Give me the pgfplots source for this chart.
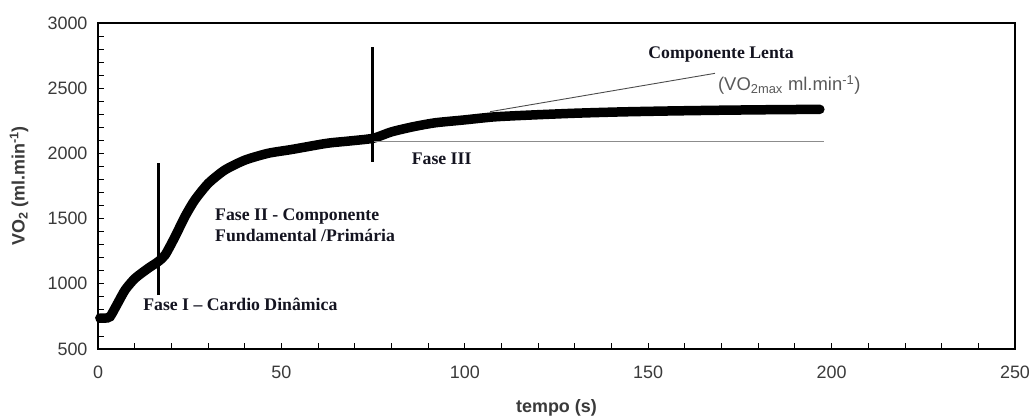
\documentclass[border=0pt]{standalone}
\usepackage{fontspec}
\setmainfont{Liberation Sans}
\newfontfamily\serifb{Liberation Serif}[Ligatures=TeX,BoldFont={Liberation Serif Bold}]
\usepackage{pgfplots}
\pgfplotsset{compat=1.18}
\definecolor{ticklab}{HTML}{3A3A3A}
\definecolor{anntext}{HTML}{141420}
\begin{document}
\begin{tikzpicture}
\begin{axis}[
  scale only axis,
  width=917bp, height=326bp,
  xmin=0, xmax=250, ymin=500, ymax=3000,
  xtick={0,50,...,250}, ytick={500,1000,...,3000},
  minor x tick num=4, minor y tick num=4,
  tick pos=left, tick align=inside,
  major tick length=6bp, minor tick length=6bp,
  axis line style={line width=1.8bp},
  every tick/.style={black, line width=0.9bp},
  /pgf/number format/assume math mode=true,
  /pgf/number format/1000 sep={},
  tick label style={font=\fontsize{18}{21}\selectfont, text=ticklab},
  xticklabel style={yshift=-13bp},
  yticklabel style={xshift=-7bp},
  xlabel={\textbf{tempo (s)}},
  ylabel={\textbf{VO\textsubscript{2} (ml.min\textsuperscript{-1})}},
  label style={font=\fontsize{18}{21}\selectfont, text=ticklab},
  xlabel style={at={(axis description cs:0.5,-0.181)}, anchor=center},
  ylabel style={at={(axis description cs:-0.086,0.5)}, anchor=center},
  clip=false,
]
% main VO2 curve
\addplot[black, line width=9.5bp, line cap=round, smooth, tension=0.4] coordinates {
(0.5,737) (1,736) (2,737) (3.3,748) (5.1,837) (7.4,953) (10.1,1042) (13.7,1119)
(16.4,1170) (18.3,1221) (21,1361) (23.7,1515) (26.4,1643) (30.1,1771)
(34.6,1873) (40.1,1949) (46.4,2001) (52.8,2030) (62.3,2077) (68.5,2095) (75,2116)
(80,2165) (86,2205) (92,2235) (99.6,2256) (108,2280) (117.8,2294) (130,2308)
(142.3,2318) (155,2325) (169.6,2331) (183,2335) (196.8,2338)
};
% Fase III baseline
\addplot[color=black!45, line width=1.4bp] coordinates {(75,2090) (198,2090)};
% slow component line
\addplot[color=black!70, line width=0.9bp] coordinates {(106.9,2320) (168.2,2614)};
% phase separators
\addplot[black, line width=3.2bp] coordinates {(16.6,914) (16.6,1929)};
\addplot[black, line width=3.2bp] coordinates {(74.9,1936) (74.9,2818)};
% annotations
\node[anchor=west, inner sep=0pt, text=anntext, font=\serifb\bfseries\fontsize{17.8}{21}\selectfont] at (axis cs:12.3,840) {Fase I – Cardio Dinâmica};
\node[anchor=west, inner sep=0pt, align=left, text=anntext, font=\serifb\bfseries\fontsize{17.8}{21}\selectfont] at (axis cs:31.9,1451) {Fase II - Componente\\Fundamental /Primária};
\node[anchor=west, inner sep=0pt, text=anntext, font=\serifb\bfseries\fontsize{17.8}{21}\selectfont] at (axis cs:85.5,1962) {Fase III};
\node[anchor=west, inner sep=0pt, text=anntext, font=\serifb\bfseries\fontsize{17.8}{21}\selectfont] at (axis cs:150,2755) {Componente Lenta};
\node[anchor=west, inner sep=0pt, text=black!65, font=\fontsize{18.5}{21}\selectfont] at (axis cs:169,2525) {(VO\textsubscript{2max} ml.min\textsuperscript{-1})};
\end{axis}
\pgfresetboundingbox
\path (-98bp,-71bp) rectangle (937bp,349bp);
\end{tikzpicture}
\end{document}
